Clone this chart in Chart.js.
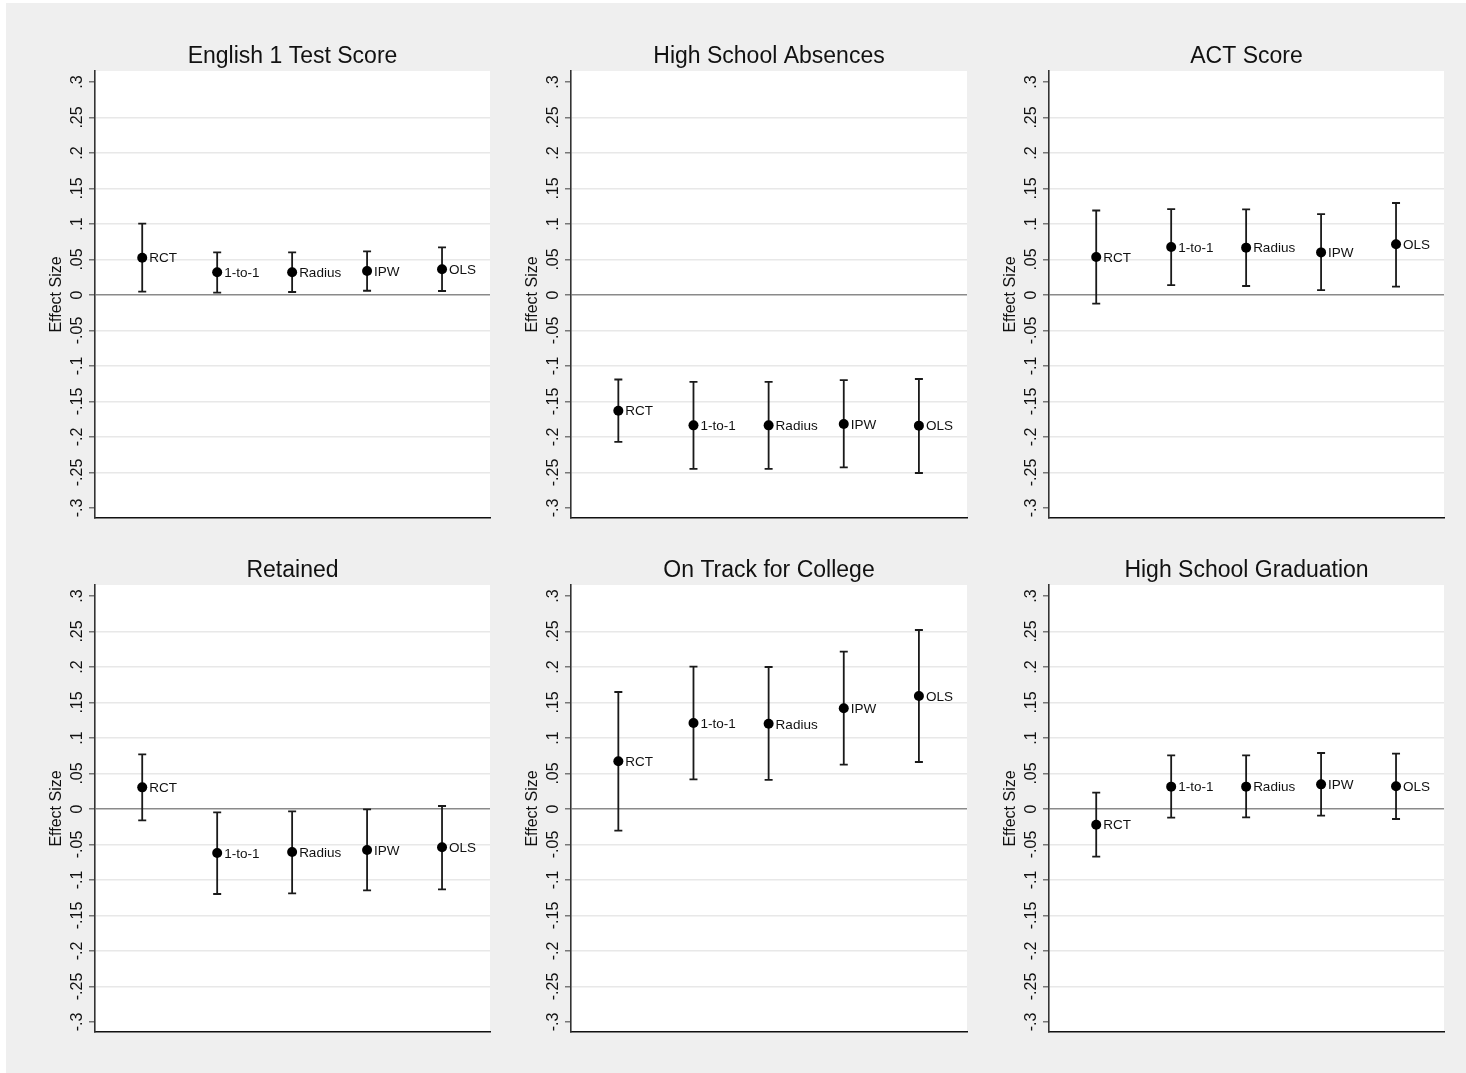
<!DOCTYPE html>
<html>
<head>
<meta charset="utf-8">
<script src="https://cdn.jsdelivr.net/npm/chart.js@4.4.1/dist/chart.umd.min.js"></script>
<style>
  html, body { margin: 0; padding: 0; background: #fff; }
  #bg { position: absolute; left: 6px; top: 3px; width: 1460px; height: 1070px; background: #efefef; }
  canvas { position: absolute; }
</style>
</head>
<body>
<div id="bg"></div>
<canvas id="p1" width="500" height="528" style="left:0px;top:0px"></canvas>
<canvas id="p2" width="501" height="528" style="left:476px;top:0px"></canvas>
<canvas id="p3" width="500" height="528" style="left:954px;top:0px"></canvas>
<canvas id="p4" width="500" height="528" style="left:0px;top:514px"></canvas>
<canvas id="p5" width="501" height="528" style="left:476px;top:514px"></canvas>
<canvas id="p6" width="500" height="528" style="left:954px;top:514px"></canvas>
<script>
// estimation methods, in plotting order
const methods = ['RCT', '1-to-1', 'Radius', 'IPW', 'OLS'];
const xPos = [1, 2, 3, 4, 5];

const yTicks = [0.3, 0.25, 0.2, 0.15, 0.1, 0.05, 0, -0.05, -0.1, -0.15, -0.2, -0.25, -0.3];
const yTickLabels = ['.3', '.25', '.2', '.15', '.1', '.05', '0', '-.05', '-.1', '-.15', '-.2', '-.25', '-.3'];

const titles = ['English 1 Test Score', 'High School Absences', 'ACT Score',
                'Retained', 'On Track for College', 'High School Graduation'];

// point estimates and 95% CI bounds
const englishEst = [0.0525, 0.032, 0.032, 0.0338, 0.0362];
const englishLo  = [0.0047, 0.0033, 0.0042, 0.006, 0.0056];
const englishHi  = [0.1004, 0.060, 0.060, 0.0615, 0.0671];

const absencesEst = [-0.163, -0.1836, -0.1836, -0.1817, -0.184];
const absencesLo  = [-0.207, -0.245, -0.245, -0.2427, -0.2507];
const absencesHi  = [-0.119, -0.1225, -0.1225, -0.120, -0.1183];

const actEst = [0.0535, 0.0676, 0.0667, 0.060, 0.0714];
const actLo  = [-0.0122, 0.014, 0.0127, 0.007, 0.0117];
const actHi  = [0.119, 0.121, 0.1207, 0.114, 0.1296];

const retainedEst = [0.0305, -0.062, -0.0606, -0.0577, -0.054];
const retainedLo  = [-0.016, -0.1197, -0.1188, -0.1146, -0.1131];
const retainedHi  = [0.077, -0.0047, -0.0033, -0.0005, 0.0042];

const onTrackEst = [0.0672, 0.1211, 0.120, 0.1418, 0.1592];
const onTrackLo  = [-0.0305, 0.0418, 0.041, 0.0624, 0.0662];
const onTrackHi  = [0.1648, 0.2005, 0.2, 0.2216, 0.2521];

const gradEst = [-0.0221, 0.0315, 0.0315, 0.0347, 0.032];
const gradLo  = [-0.0671, -0.0122, -0.0117, -0.0094, -0.0141];
const gradHi  = [0.023, 0.0756, 0.0756, 0.0789, 0.0779];

const FONT = '"Liberation Sans", Arial, Helvetica, sans-serif';

// draws white plot region, title, rotated y labels, CI bars and marker labels
const stataPlugin = {
  id: 'stata',
  beforeDraw(chart) {
    const a = chart.chartArea, ctx = chart.ctx;
    ctx.save();
    ctx.fillStyle = '#fff';
    ctx.fillRect(a.left, a.top, a.right - a.left, a.bottom - a.top);
    ctx.restore();
  },
  beforeDatasetsDraw(chart) {
    const ctx = chart.ctx;
    const xs = chart.scales.x, ys = chart.scales.y;
    const o = chart.options.plugins.stata;
    // confidence intervals
    ctx.save();
    ctx.strokeStyle = '#1a1a1a';
    ctx.lineWidth = 1.8;
    xPos.forEach((x, i) => {
      const px = xs.getPixelForValue(x);
      const lo = ys.getPixelForValue(o.lo[i]);
      const hi = ys.getPixelForValue(o.hi[i]);
      ctx.beginPath();
      ctx.moveTo(px, lo); ctx.lineTo(px, hi);
      ctx.moveTo(px - 4, lo); ctx.lineTo(px + 4, lo);
      ctx.moveTo(px - 4, hi); ctx.lineTo(px + 4, hi);
      ctx.stroke();
    });
    ctx.restore();
  },
  afterDraw(chart) {
    const a = chart.chartArea, ctx = chart.ctx;
    const xs = chart.scales.x, ys = chart.scales.y;
    const o = chart.options.plugins.stata;
    ctx.save();
    // title
    ctx.fillStyle = '#111';
    ctx.font = '23px ' + FONT;
    ctx.textAlign = 'center';
    ctx.textBaseline = 'middle';
    ctx.fillText(o.title, (a.left + a.right) / 2, a.top - 14);
    // rotated tick labels
    ctx.font = '16px ' + FONT;
    yTicks.forEach((v, i) => {
      const py = ys.getPixelForValue(v);
      ctx.save();
      ctx.translate(a.left - 17, py);
      ctx.rotate(-Math.PI / 2);
      ctx.fillText(yTickLabels[i], 0, 0);
      ctx.restore();
    });
    // axis title
    ctx.save();
    ctx.translate(a.left - 38, (a.top + a.bottom) / 2);
    ctx.rotate(-Math.PI / 2);
    ctx.fillText('Effect Size', 0, 0);
    ctx.restore();
    // marker labels at 3 o'clock
    ctx.font = '13.5px ' + FONT;
    ctx.textAlign = 'left';
    ctx.fillStyle = '#111';
    xPos.forEach((x, i) => {
      ctx.fillText(methods[i], xs.getPixelForValue(x) + 7, ys.getPixelForValue(o.est[i]) + 1);
    });
    ctx.restore();
  }
};

function makePanel(id, title, est, lo, hi) {
  return new Chart(document.getElementById(id), {
    type: 'scatter',
    data: {
      datasets: [{
        data: xPos.map((x, i) => ({ x: x, y: est[i] })),
        pointRadius: 5,
        pointHoverRadius: 5,
        backgroundColor: '#000',
        borderColor: '#000',
        borderWidth: 0
      }]
    },
    options: {
      responsive: false,
      animation: false,
      events: [],
      layout: { padding: { left: 0, top: 71, right: 10, bottom: 10 } },
      scales: {
        x: {
          type: 'linear', min: 0.37, max: 5.64,
          grid: { display: false },
          ticks: { display: false },
          border: { display: true, color: '#111', width: 1.6 },
          afterFit: s => { s.height = 0; }
        },
        y: {
          type: 'linear', min: -0.3141, max: 0.3155,
          afterBuildTicks: s => { s.ticks = yTicks.map(v => ({ value: v })); },
          ticks: { display: false },
          grid: {
            color: c => {
              const v = c.tick ? c.tick.value : null;
              if (v === 0) return '#8a8a8a';
              if (v === 0.3 || v === -0.3) return 'rgba(0,0,0,0)';
              return '#e8e8e8';
            },
            lineWidth: 1.5,
            tickColor: '#777',
            tickLength: 6,
            tickWidth: 1.5
          },
          border: { display: true, color: '#333', width: 1.6 },
          afterFit: s => { s.width = 95; }
        }
      },
      plugins: {
        legend: { display: false },
        tooltip: { enabled: false },
        stata: { title: title, est: est, lo: lo, hi: hi }
      }
    },
    plugins: [stataPlugin]
  });
}

makePanel('p1', titles[0], englishEst, englishLo, englishHi);
makePanel('p2', titles[1], absencesEst, absencesLo, absencesHi);
makePanel('p3', titles[2], actEst, actLo, actHi);
makePanel('p4', titles[3], retainedEst, retainedLo, retainedHi);
makePanel('p5', titles[4], onTrackEst, onTrackLo, onTrackHi);
makePanel('p6', titles[5], gradEst, gradLo, gradHi);
</script>
</body>
</html>
